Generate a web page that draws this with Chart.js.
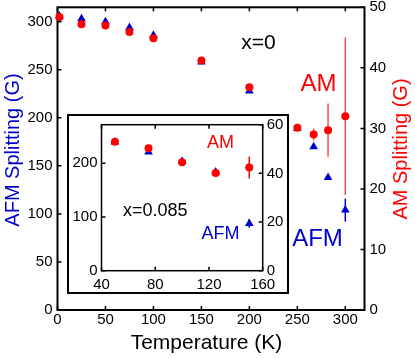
<!DOCTYPE html>
<html>
<head>
<meta charset="utf-8">
<script src="https://cdn.jsdelivr.net/npm/chart.js@4"></script>
<style>
  html, body { margin: 0; padding: 0; background: #fff; }
  #wrap { position: relative; width: 415px; height: 358px; }
  #main { position: absolute; left: 0; top: 0; }
  #inset { position: absolute; left: 67px; top: 114px; background: #fff; }
</style>
</head>
<body>
<div id="wrap">
  <canvas id="main" width="415" height="358"></canvas>
  <canvas id="inset" width="222" height="180"></canvas>
</div>
<script>
// x=0 sample (main panel)
const mainTemps = [2, 25, 50, 75, 100, 150, 200, 250, 267, 282, 300];
const mainAFM = [306, 303, 300, 294, 286, 258, 228, 189, 170, 138, 104];
const mainAFMErr = [0, 0, 0, 0, 0, 0, 0, 0, 0, 0, 12];
const mainAM = [48.4, 47.2, 47.0, 45.9, 44.9, 41.2, 36.8, 30.1, 29.0, 29.7, 32.0];
const mainAMErr = [0, 0, 0, 0, 0, 0, 0, 0, 1, 4.4, 13];

// x=0.085 sample (inset)
const insetTemps = [50, 75, 100, 125, 150];
const insetAFM = [240, 221, 204, 184, 88];
const insetAFMErr = [0, 0, 0, 0, 8];
const insetAM = [53.0, 50.3, 44.6, 40.1, 42.4];
const insetAMErr = [0, 0, 0, 0, 4.5];

// tick labels
const mainXTicks = [0, 50, 100, 150, 200, 250, 300];
const mainAFMTicks = [0, 50, 100, 150, 200, 250, 300];
const mainAMTicks = [0, 10, 20, 30, 40, 50];
const insetXTicks = [40, 80, 120, 160];
const insetAFMTicks = [0, 100, 200];
const insetAMTicks = [0, 20, 40, 60];

const BLUE = "#0000cc";
const RED = "#ff0000";
const FONT = "'Liberation Sans', Arial, Helvetica, sans-serif";

Chart.defaults.font.family = FONT;
Chart.defaults.color = "#000";

const points = (xs, ys) => xs.map((x, i) => ({ x, y: ys[i] }));

// keep the axis boxes exactly as wide / tall as in the picture
const fixed = (size, dim) => scale => {
  scale[dim] = size;
  scale.paddingLeft = scale.paddingRight = 0;
  scale.paddingTop = scale.paddingBottom = 0;
};
const useTicks = values => scale => {
  scale.ticks = values.map(v => ({ value: v }));
};

function axis(position, min, max, ticks, size, pad, fontSize) {
  const horizontal = position === "bottom";
  return {
    type: "linear",
    position,
    min,
    max,
    grid: { display: false, drawTicks: false },
    border: { display: false },
    ticks: { color: "#000", font: { size: fontSize }, padding: pad, autoSkip: false, maxRotation: 0 },
    afterBuildTicks: useTicks(ticks),
    afterFit: fixed(size, horizontal ? "height" : "width"),
  };
}

// frame + inward ticks, drawn under the markers
const frame = {
  id: "frame",
  beforeDraw(chart, args, opts) {
    if (!opts.outer) return;
    const { ctx, width, height } = chart;
    ctx.save();
    ctx.strokeStyle = "#000";
    ctx.lineWidth = 2;
    ctx.strokeRect(1, 1, width - 2, height - 2);
    ctx.restore();
  },
  beforeDatasetsDraw(chart, args, opts) {
    const { ctx, chartArea: a, scales } = chart;
    const len = opts.len;
    ctx.save();
    ctx.strokeStyle = "#000";
    ctx.lineWidth = opts.tickWidth;
    ctx.beginPath();
    scales.x.ticks.forEach(t => {
      const px = scales.x.getPixelForValue(t.value);
      ctx.moveTo(px, a.bottom); ctx.lineTo(px, a.bottom - len);
      ctx.moveTo(px, a.top); ctx.lineTo(px, a.top + len);
    });
    scales.y.ticks.forEach(t => {
      const py = scales.y.getPixelForValue(t.value);
      ctx.moveTo(a.left, py); ctx.lineTo(a.left + len, py);
    });
    scales.y1.ticks.forEach(t => {
      const py = scales.y1.getPixelForValue(t.value);
      ctx.moveTo(a.right, py); ctx.lineTo(a.right - len, py);
    });
    ctx.stroke();
    ctx.lineWidth = opts.width;
    ctx.strokeRect(a.left, a.top, a.right - a.left, a.bottom - a.top);
    ctx.restore();
  },
};

// vertical error bars from each dataset's errors array
const errorBars = {
  id: "errorBars",
  beforeDatasetsDraw(chart) {
    const { ctx, scales } = chart;
    chart.data.datasets.forEach(ds => {
      if (!ds.errors) return;
      const ys = scales[ds.yAxisID];
      ctx.save();
      ctx.strokeStyle = ds.errColor;
      ctx.lineWidth = 1.5;
      ctx.beginPath();
      ds.data.forEach((p, i) => {
        const e = ds.errors[i];
        if (!e) return;
        const px = scales.x.getPixelForValue(p.x);
        ctx.moveTo(px, ys.getPixelForValue(p.y - e));
        ctx.lineTo(px, ys.getPixelForValue(p.y + e));
      });
      ctx.stroke();
      ctx.restore();
    });
  },
};

// free text: either in data units (x, y on the left axis) or in pixels
const texts = {
  id: "texts",
  afterDraw(chart, args, opts) {
    const { ctx, scales } = chart;
    (opts.items || []).forEach(it => {
      const px = it.px != null ? it.px : scales.x.getPixelForValue(it.x);
      const py = it.py != null ? it.py : scales.y.getPixelForValue(it.y);
      ctx.save();
      ctx.translate(px, py);
      if (it.rotate) ctx.rotate(-Math.PI / 2);
      ctx.font = `${it.size}px ${FONT}`;
      ctx.fillStyle = it.color;
      ctx.textAlign = "center";
      ctx.textBaseline = "middle";
      ctx.fillText(it.text, 0, 0);
      ctx.restore();
    });
  },
};

const common = {
  responsive: false,
  animation: false,
  events: [],
  devicePixelRatio: 1,
};

new Chart(document.getElementById("main"), {
  type: "scatter",
  data: {
    datasets: [
      {
        label: "AM",
        data: points(mainTemps, mainAM),
        yAxisID: "y1",
        pointStyle: "circle",
        pointRadius: 4,
        backgroundColor: RED,
        borderWidth: 0,
        clip: false,
        errors: mainAMErr,
        errColor: "#ff4d4d",
      },
      {
        label: "AFM",
        data: points(mainTemps, mainAFM),
        yAxisID: "y",
        pointStyle: "triangle",
        pointRadius: 5,
        backgroundColor: BLUE,
        borderWidth: 0,
        clip: false,
        errors: mainAFMErr,
        errColor: BLUE,
      },
    ],
  },
  options: {
    ...common,
    layout: { padding: { top: 7.3, left: 0, right: 0, bottom: 0 } },
    scales: {
      x: axis("bottom", 0, 320, mainXTicks, 48, 1, 15),
      y: axis("left", 0, 315, mainAFMTicks, 57.5, 5, 15),
      y1: axis("right", 0, 50, mainAMTicks, 50.5, 5, 15),
    },
    plugins: {
      legend: { display: false },
      tooltip: { enabled: false },
      frame: { len: 4, tickWidth: 1.5, width: 2 },
      texts: {
        items: [
          { text: "Temperature (K)", px: 206.5, py: 343, size: 21, color: "#000" },
          { text: "AFM Splitting (G)", px: 13.5, py: 150, size: 20, color: BLUE, rotate: true },
          { text: "AM Splitting (G)", px: 401.5, py: 149, size: 20, color: RED, rotate: true },
          { text: "x=0", x: 209.5, y: 278, size: 21, color: "#000" },
          { text: "AM", x: 272, y: 235, size: 24, color: RED },
          { text: "AFM", x: 271, y: 74, size: 24, color: BLUE },
        ],
      },
    },
  },
  plugins: [frame, errorBars, texts],
});

new Chart(document.getElementById("inset"), {
  type: "scatter",
  data: {
    datasets: [
      {
        label: "AM",
        data: points(insetTemps, insetAM),
        yAxisID: "y1",
        pointStyle: "circle",
        pointRadius: 4,
        backgroundColor: RED,
        borderWidth: 0,
        clip: false,
        errors: insetAMErr,
        errColor: RED,
      },
      {
        label: "AFM",
        data: points(insetTemps, insetAFM),
        yAxisID: "y",
        pointStyle: "triangle",
        pointRadius: 5,
        backgroundColor: BLUE,
        borderWidth: 0,
        clip: false,
        errors: insetAFMErr,
        errColor: BLUE,
      },
    ],
  },
  options: {
    ...common,
    layout: { padding: { top: 10.7, left: 0, right: 0, bottom: 0 } },
    scales: {
      x: axis("bottom", 40, 160, insetXTicks, 23.3, 5, 15),
      y: axis("left", 0, 272, insetAFMTicks, 34.5, 4, 15),
      y1: axis("right", 0, 60, insetAMTicks, 26.3, 4, 15),
    },
    plugins: {
      legend: { display: false },
      tooltip: { enabled: false },
      frame: { len: 4, tickWidth: 1.5, width: 1.5, outer: true },
      texts: {
        items: [
          { text: "x=0.085", x: 80, y: 111, size: 18, color: "#000" },
          { text: "AM", x: 128.5, y: 238, size: 18, color: RED },
          { text: "AFM", x: 128.5, y: 68, size: 18, color: BLUE },
        ],
      },
    },
  },
  plugins: [frame, errorBars, texts],
});
</script>
</body>
</html>
